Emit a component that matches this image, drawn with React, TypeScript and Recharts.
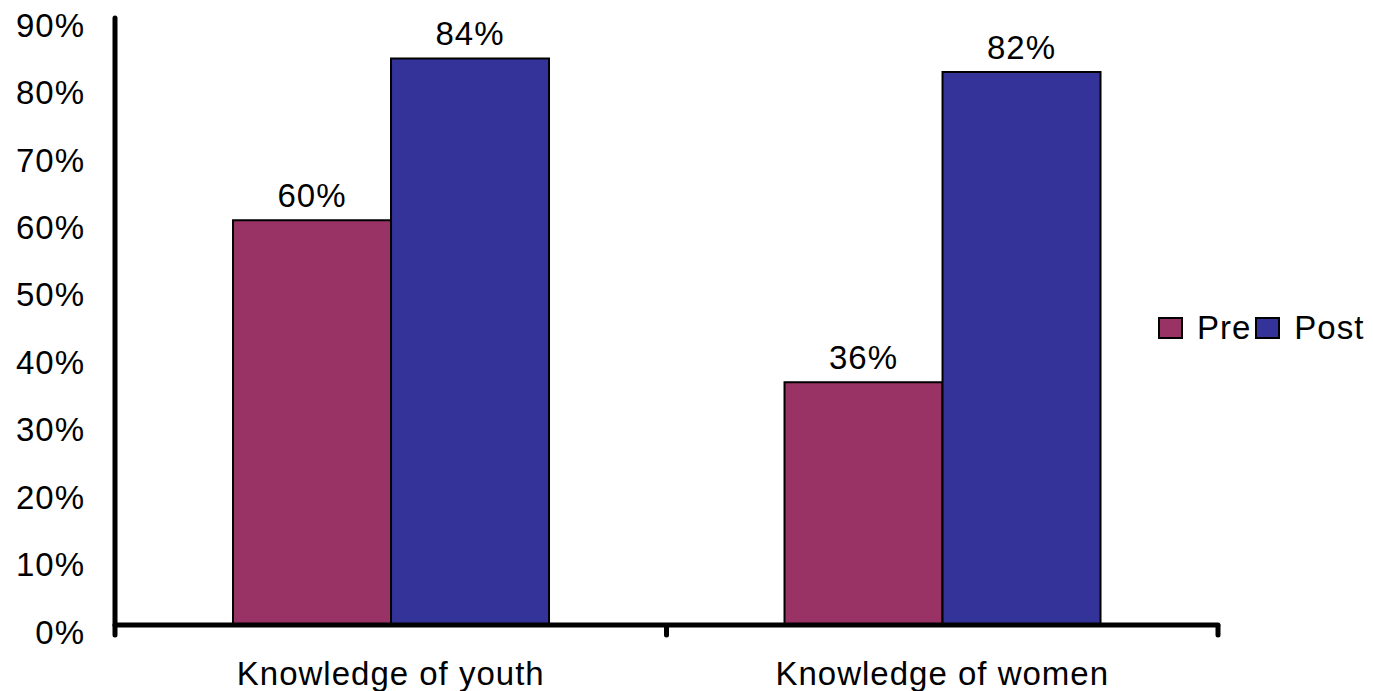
import { BarChart, Bar, XAxis, YAxis, LabelList, Legend } from "recharts";

// knowledge scores before and after the session
const categories = ["Knowledge of youth", "Knowledge of women"];
const preScores = [60, 36];
const postScores = [84, 82];
const percentTicks = [0, 10, 20, 30, 40, 50, 60, 70, 80, 90];
const categoryEdges = [0, 1, 2];

const seriesNames = ["Pre", "Post"];
const seriesColors = ["#993366", "#333399"];

const data = categories.map((name, i) => ({
  name,
  slot: i,
  Pre: preScores[i],
  Post: postScores[i],
}));

const FONT = "'Liberation Sans', Arial, sans-serif";
const textStyle = { fill: "#000", fontSize: 33, letterSpacing: 1 };
const axisLine = { stroke: "#000", strokeWidth: 5, strokeLinecap: "round" as const };

const LegendRow = (props: any) => {
  const items = [...(props.payload || [])].sort(
    (a: any, b: any) => seriesNames.indexOf(a.value) - seriesNames.indexOf(b.value)
  );
  return (
    <div style={{ display: "flex", alignItems: "center", fontSize: 33, letterSpacing: 1, fontFamily: FONT, color: "#000" }}>
      {items.map((item: any) => (
        <div key={item.value} style={{ display: "flex", alignItems: "center" }}>
          <span
            style={{
              display: "inline-block",
              width: 21,
              height: 18,
              background: item.color,
              border: "2px solid #000",
              marginRight: 14,
            }}
          />
          <span style={{ marginRight: 4 }}>{item.value}</span>
        </div>
      ))}
    </div>
  );
};

export default function App() {
  return (
    <div style={{ position: "absolute", left: 0, top: 0, width: 1373, height: 691, background: "#fff", fontFamily: FONT }}>
      <BarChart
        width={1373}
        height={691}
        data={data}
        margin={{ top: 18, right: 155, bottom: 0, left: 0 }}
        barCategoryGap="21.4%"
        barGap={0}
      >
        {/* category axis sits right on the plot edge; its labels hang below */}
        <XAxis
          dataKey="name"
          height={1}
          axisLine={axisLine}
          tickLine={false}
          tickSize={0}
          tickMargin={37}
          tick={textStyle}
        />
        {/* short marks at the category boundaries */}
        <XAxis
          xAxisId="edges"
          dataKey="slot"
          type="number"
          domain={[0, categories.length]}
          allowDataOverflow
          ticks={categoryEdges}
          interval={0}
          height={65}
          axisLine={false}
          tickLine={{ stroke: "#000", strokeWidth: 5, strokeLinecap: "round" }}
          tickSize={9}
          tick={() => <g />}
        />
        <YAxis
          width={115}
          domain={[0, 90]}
          ticks={percentTicks}
          interval={0}
          axisLine={axisLine}
          tickLine={false}
          tickSize={0}
          tickMargin={30}
          tickFormatter={(v: number) => `${v}%`}
          tick={{ ...textStyle, dy: 7 }}
        />
        <Legend
          layout="vertical"
          align="center"
          verticalAlign="middle"
          width={220}
          wrapperStyle={{ left: 1158, top: 309 }}
          content={LegendRow}
        />
        {seriesNames.map((s, i) => (
          <Bar key={s} dataKey={s} fill={seriesColors[i]} stroke="#000" strokeWidth={2} isAnimationActive={false}>
            <LabelList
              dataKey={s}
              position="top"
              offset={13}
              formatter={(v: any) => `${v}%`}
              style={textStyle}
            />
          </Bar>
        ))}
      </BarChart>
    </div>
  );
}
